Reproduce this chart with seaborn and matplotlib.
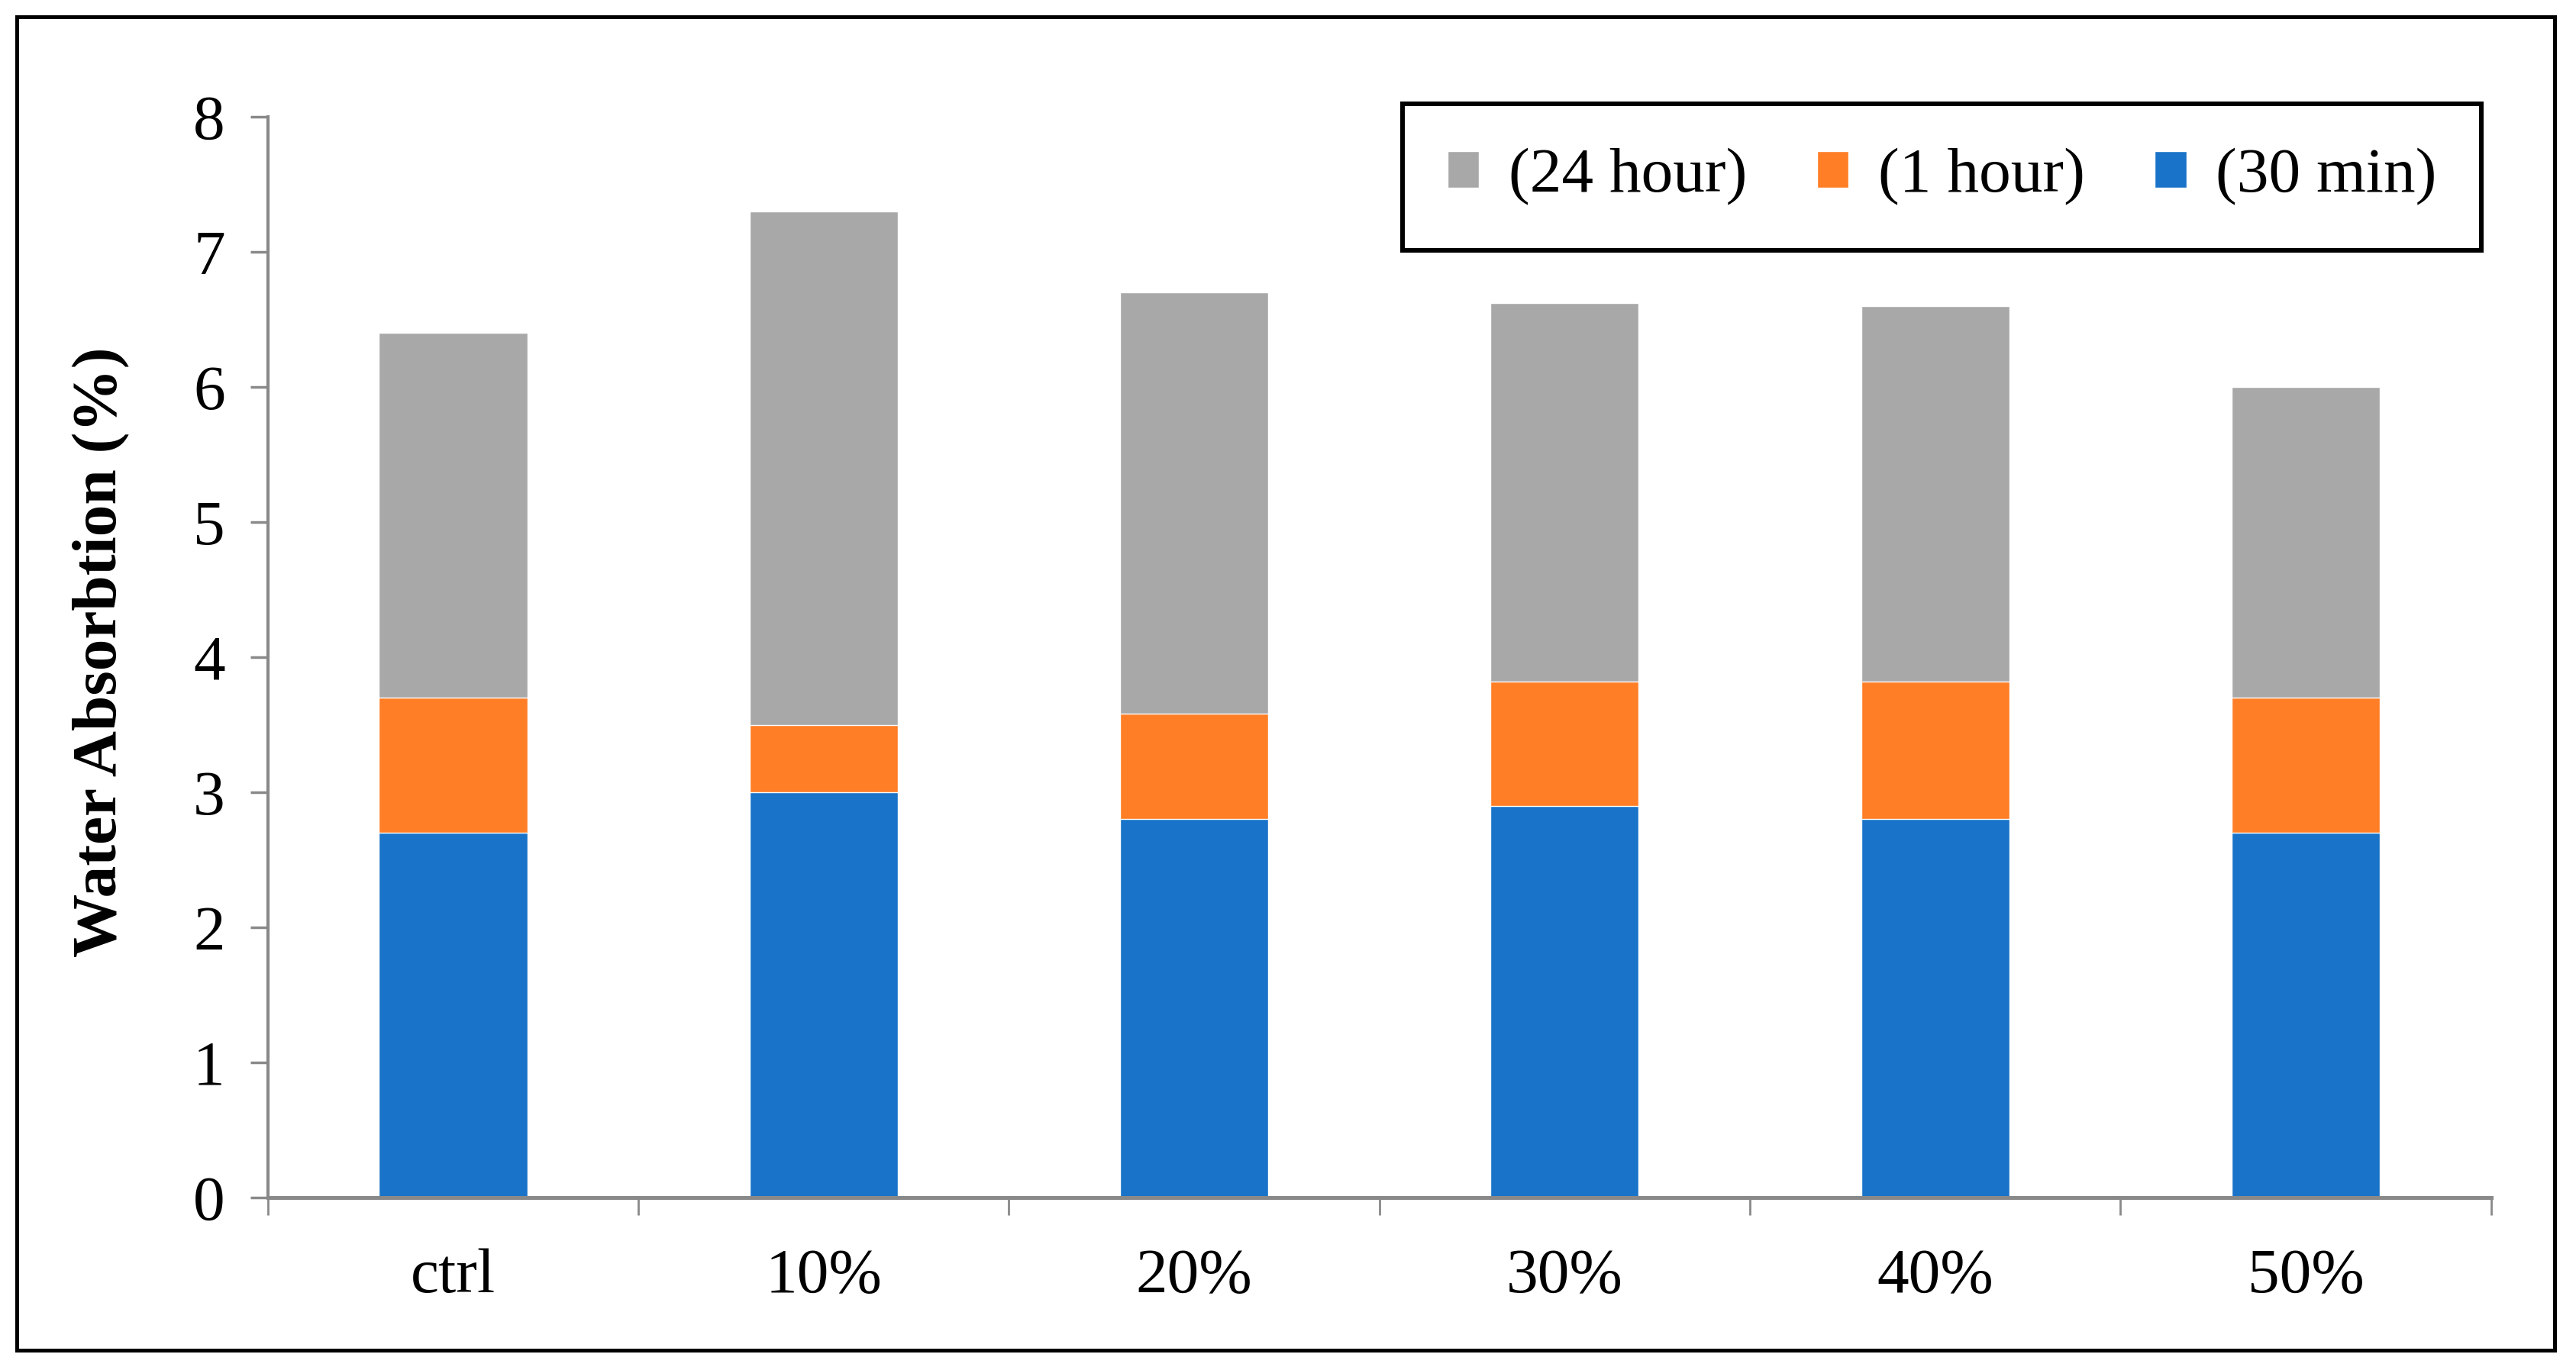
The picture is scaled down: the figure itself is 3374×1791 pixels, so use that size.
import matplotlib
matplotlib.use('Agg')
import matplotlib.pyplot as plt
import seaborn as sns
import pandas as pd
from matplotlib.patches import Rectangle

# values (segment heights, stacked)
categories = ['ctrl', '10%', '20%', '30%', '40%', '50%']
min30 = [2.7, 3.0, 2.8, 2.9, 2.8, 2.7]
hour1 = [1.0, 0.5, 0.78, 0.92, 1.02, 1.0]
hour24 = [2.7, 3.8, 3.12, 2.8, 2.78, 2.3]
yticks = [0, 1, 2, 3, 4, 5, 6, 7, 8]

sns.set_style('white')
plt.rcParams['font.family'] = ['Liberation Serif', 'DejaVu Serif']
plt.rcParams['text.color'] = 'black'
plt.rcParams['axes.labelcolor'] = 'black'

df = pd.DataFrame({'cat': categories, 'm30': min30, 'h1': hour1, 'h24': hour24})
df['top1'] = df['m30'] + df['h1']
df['top24'] = df['top1'] + df['h24']

fig = plt.figure(figsize=(33.74, 17.91), dpi=100)
ax = fig.add_axes([0.104, 0.1238, 0.863, 0.7909])

# draw the cumulative totals back to front so they look stacked
sns.barplot(data=df, x='cat', y='top24', color='#A8A8A8', saturation=1, width=0.4,
            errorbar=None, label='(24 hour)', ax=ax)
sns.barplot(data=df, x='cat', y='top1', color='#FF7E26', saturation=1, width=0.4,
            errorbar=None, label='(1 hour)', ax=ax)
sns.barplot(data=df, x='cat', y='m30', color='#1973C8', saturation=1, width=0.4,
            errorbar=None, label='(30 min)', ax=ax)

ax.set_xlim(-0.5, len(categories) - 0.5)
ax.set_ylim(0, 8)
ax.set_yticks(yticks)
ax.set_yticklabels([str(t) for t in yticks], fontsize=60)

# category labels on minor ticks, boundary marks on major ticks
ax.set_xticks([i - 0.5 for i in range(len(categories) + 1)])
ax.set_xticklabels([])
ax.set_xticks(range(len(categories)), minor=True)
ax.set_xticklabels(categories, minor=True, fontsize=60)
ax.tick_params(axis='x', which='major', length=16.5, width=2, color='#898989', direction='out', bottom=True)
ax.tick_params(axis='x', which='minor', length=0, pad=48, labelcolor='black')
ax.tick_params(axis='y', length=16.5, width=2.5, color='#898989', direction='out', left=True, pad=24,
               labelcolor='black')

ax.set_xlabel('')
ax.set_ylabel('Water Absorbtion (%)', fontsize=60, fontweight='bold', va='center', color='black')
ax.yaxis.set_label_coords(-0.075, 0.505)

sns.despine(ax=ax)
ax.spines['left'].set_color('#898989')
ax.spines['left'].set_linewidth(3)
ax.spines['bottom'].set_color('#898989')
ax.spines['bottom'].set_linewidth(3.6)

leg = ax.legend(loc='upper right', bbox_to_anchor=(0.9956, 1.012), ncol=3, fontsize=60,
                frameon=True, fancybox=False, framealpha=1, borderpad=0.7,
                handlelength=0.5, handleheight=0.5, handletextpad=0.46, columnspacing=1.1,
                borderaxespad=0)
leg.get_frame().set_edgecolor('black')
leg.get_frame().set_linewidth(4.3)
for t in leg.get_texts():
    t.set_color('black')

# outer frame around the whole chart
fig.add_artist(Rectangle((22 / 3374, 1 - 1769 / 1791), (3346 - 22) / 3374, (1769 - 22) / 1791,
                         transform=fig.transFigure, fill=False, edgecolor='black', linewidth=3.6))

fig.savefig('out.png', dpi=100)
plt.close(fig)
